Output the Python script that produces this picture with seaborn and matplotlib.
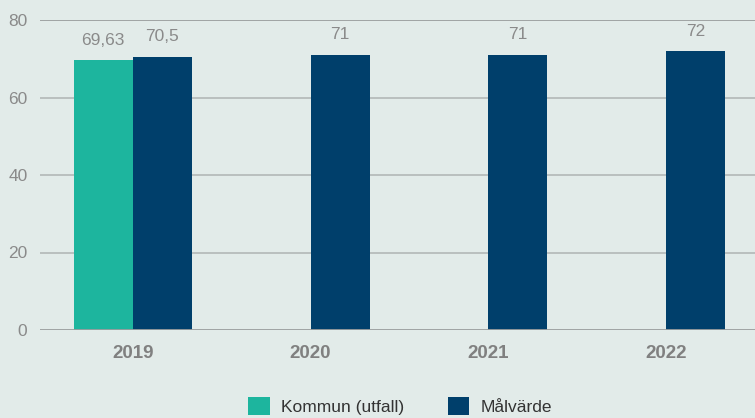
import matplotlib
matplotlib.use("Agg")
import matplotlib.pyplot as plt
import seaborn as sns
import pandas as pd
from matplotlib.patches import Patch

years = ["2019", "2020", "2021", "2022"]
kommun = [69.63, None, None, None]
malvarde = [70.5, 71, 71, 72]
series_names = ["Kommun (utfall)", "Målvärde"]
colors = ["#1db59e", "#003f6b"]

rows = []
for y, k, m in zip(years, kommun, malvarde):
    if k is not None:
        rows.append({"year": y, "serie": series_names[0], "value": k})
    rows.append({"year": y, "serie": series_names[1], "value": m})
df = pd.DataFrame(rows)

bg = "#e2ebe9"
sns.set_style("white")
plt.rcParams["font.family"] = ["Liberation Sans", "DejaVu Sans"]

fig = plt.figure(figsize=(7.55, 4.18), dpi=100, facecolor=bg)
ax = fig.add_axes([40 / 755, 88 / 418, 715 / 755, 310 / 418], facecolor=bg)

sns.barplot(data=df, x="year", y="value", hue="serie", order=years,
            hue_order=series_names, palette=colors, width=0.665,
            saturation=1, linewidth=0, ax=ax, legend=False, zorder=3)

ax.set_ylim(0, 80)
ax.set_xlim(-0.5225, 3.501)
ax.set_yticks([0, 20, 40, 60, 80])
for v in [20, 40, 60]:
    ax.axhline(v, color="#b3b8b7", lw=1.2, zorder=1)
for v in [0, 80]:
    ax.axhline(v, color="#9b9e9e", lw=1.3, zorder=4 if v == 0 else 1)

for sp in ax.spines.values():
    sp.set_visible(False)
ax.set_xlabel("")
ax.set_ylabel("")
ax.tick_params(axis="y", length=0, pad=9, labelsize=12.5, labelcolor="#8a8a8a")
ax.tick_params(axis="x", length=0, pad=11, labelsize=13.5, labelcolor="#808080")
for lbl in ax.get_xticklabels():
    lbl.set_fontweight("bold")

def fmt(v):
    return f"{v:g}".replace(".", ",")

for cont, vals in zip(ax.containers, [kommun, malvarde]):
    labels = [fmt(v) for v in vals if v is not None]
    ax.bar_label(cont, labels=labels, padding=9, fontsize=12.5, color="#8a8a8a")

handles = [Patch(facecolor=c, edgecolor="none") for c in colors]
fig.legend(handles, series_names, loc="center", bbox_to_anchor=(0.53, 0.028),
           ncol=2, frameon=False, fontsize=12.5, handlelength=1.25, handleheight=1.25,
           handletextpad=0.65, columnspacing=2.5, labelcolor="#333333")

plt.savefig("out.png", dpi=100, facecolor=bg)
